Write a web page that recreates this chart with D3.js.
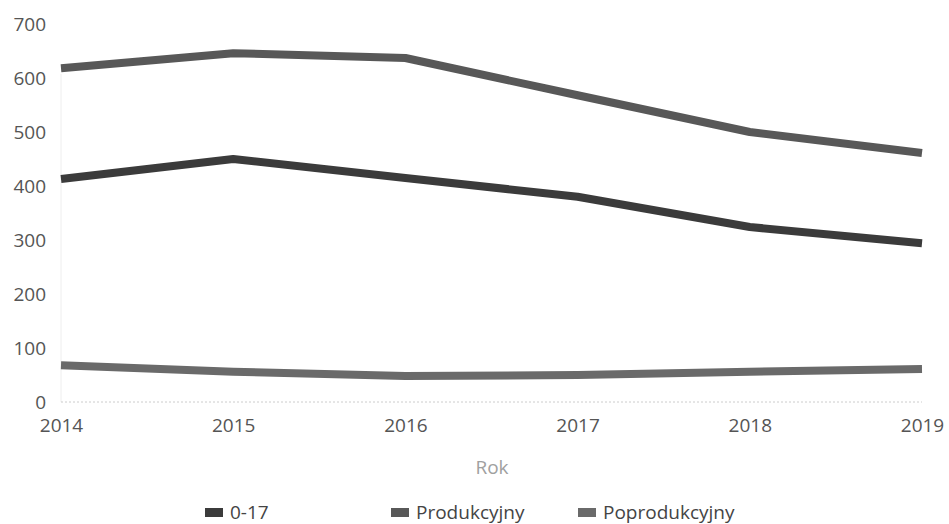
<!DOCTYPE html>
<html>
<head>
<meta charset="utf-8">
<script src="https://cdn.jsdelivr.net/npm/d3@7"></script>
<style>
  body { margin: 0; background: #fff; }
  svg { display: block; font-family: "Open Sans", sans-serif; }
</style>
</head>
<body>
<div class="chart"></div>
<script>
// data
var years = [2014, 2015, 2016, 2017, 2018, 2019];
var seriesNames = ['0-17', 'Produkcyjny', 'Poprodukcyjny'];
var wiek017 = [413, 450, 415, 380, 324, 294];
var produkcyjny = [618, 646, 637, 568, 500, 461];
var poprodukcyjny = [68, 56, 48, 50, 56, 61];
var yTicks = [0, 100, 200, 300, 400, 500, 600, 700];

var width = 949, height = 524;
var colors = ['#3b3b3b', '#585858', '#6a6a6a'];
var textColor = '#555';
var fontSize = 19;

var svg = d3.select('.chart').append('svg')
    .attr('width', width)
    .attr('height', height);

var x = d3.scalePoint().domain(years).range([61, 922]);
var y = d3.scaleLinear().domain([0, 700]).range([402, 24]);

// faint left edge and dotted baseline
svg.append('line')
    .attr('x1', x(2014)).attr('x2', x(2014))
    .attr('y1', y(700) + 50).attr('y2', y(0))
    .attr('stroke', '#eee').attr('stroke-width', 1);
svg.append('line')
    .attr('x1', x(2014)).attr('x2', x(2019))
    .attr('y1', y(0)).attr('y2', y(0))
    .attr('stroke', '#ccc').attr('stroke-width', 1)
    .attr('stroke-dasharray', '2,2');

var yAxis = svg.append('g')
    .attr('transform', 'translate(46,0)')
    .call(d3.axisLeft(y).tickValues(yTicks).tickSize(0).tickPadding(0));
yAxis.select('.domain').remove();
yAxis.selectAll('text')
    .attr('font-size', fontSize)
    .attr('fill', textColor)
    .attr('font-family', '"Open Sans", sans-serif');

var xAxis = svg.append('g')
    .attr('transform', 'translate(0,' + 418 + ')')
    .call(d3.axisBottom(x).tickFormat(d3.format('d')).tickSize(0).tickPadding(0));
xAxis.select('.domain').remove();
xAxis.selectAll('text')
    .attr('font-size', fontSize)
    .attr('fill', textColor)
    .attr('font-family', '"Open Sans", sans-serif');

svg.append('text')
    .attr('x', 492)
    .attr('y', 474)
    .attr('text-anchor', 'middle')
    .attr('font-size', fontSize)
    .attr('fill', '#a0a0a0')
    .text('Rok');

var allSeries = [wiek017, produkcyjny, poprodukcyjny];
var line = d3.line()
    .x(function(d, i){ return x(years[i]); })
    .y(function(d){ return y(d); });

// draw lower series first so the ordering matches
for (var i = allSeries.length - 1; i >= 0; i--) {
    svg.append('path')
        .datum(allSeries[i])
        .attr('d', line)
        .attr('fill', 'none')
        .attr('stroke', colors[i])
        .attr('stroke-width', 8)
        .attr('stroke-linejoin', 'round');
}

// legend
var legendX = [205, 391, 578];
for (var j = 0; j < seriesNames.length; j++) {
    svg.append('rect')
        .attr('x', legendX[j])
        .attr('y', 508)
        .attr('width', 18)
        .attr('height', 9)
        .attr('fill', colors[j]);
    svg.append('text')
        .attr('x', legendX[j] + 25)
        .attr('y', 519)
        .attr('font-size', fontSize)
        .attr('fill', '#444')
        .text(seriesNames[j]);
}
</script>
</body>
</html>
